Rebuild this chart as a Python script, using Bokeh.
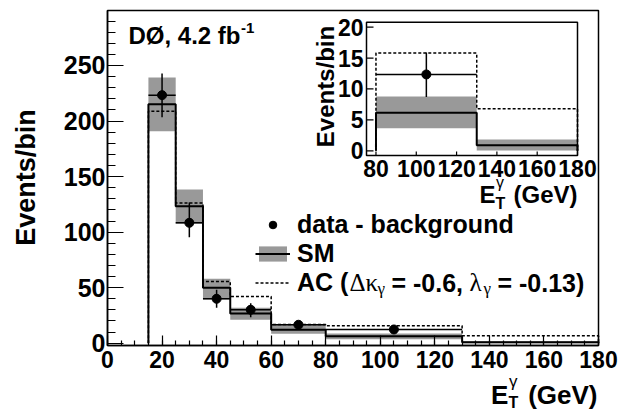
import math
from bokeh.plotting import figure
from bokeh.models import (Range1d, SingleIntervalTicker, Label, Legend, LegendItem)
from bokeh.core.properties import value
from bokeh.embed import file_html
from bokeh.resources import INLINE

# ---------------- data ----------------
bin_edges = [15, 25, 35, 45, 60, 80, 130, 180]
sm_central = [215.2, 123.3, 49.9, 26.7, 12.1, 6.15, 0.9]
sm_low = [190.9, 107.5, 39.3, 21.1, 8.4, 3.66, 0.05]
sm_high = [239.2, 138.4, 58.0, 31.9, 16.8, 8.8, 1.83]
ac_pred = [208.9, 126.2, 55.5, 42.0, 16.8, 15.8, 6.8]
data_x = [20, 30, 40, 52.5, 70, 105]
data_y = [223.3, 108.4, 40.0, 30.1, 16.6, 12.35]
data_err_low = [19.8, 13.0, 8.1, 6.7, 3.5, 3.65]
data_err_high = [19.5, 18.3, 8.1, 5.9, 3.5, 3.55]
inset_x_ticks = [80, 100, 120, 140, 160, 180]
inset_y_ticks = [0, 5, 10, 15, 20]

main_xr = (0, 180)
main_yr = (-2.07, 299.5)
inset_xr = (75.3, 180)
inset_yr = (-0.76, 20.8)

FONT = "Liberation Sans"
GREEK = "Liberation Serif"
GRAY = "#999999"

# ---------------- geometry (pixels) ----------------
W, H = 630, 412
ML, MT, MR, MB = 107, 10, 598, 345          # main frame box
IL, IT, IR, IB = 366, 21.7, 577, 155        # inset frame box


def full_range(lim, a_px, b_px, total, flip=False):
    u = (lim[1] - lim[0]) / (b_px - a_px)
    if flip:  # vertical: a_px = top, b_px = bottom
        return Range1d(lim[0] - (total - b_px) * u, lim[1] + a_px * u)
    return Range1d(lim[0] - a_px * u, lim[1] + (total - b_px) * u)


x_rng = full_range(main_xr, ML, MR, W)
y_rng = full_range(main_yr, MT, MB, H, flip=True)
ix_range = full_range(inset_xr, IL, IR, W)
iy_range = full_range(inset_yr, IT, IB, H, flip=True)
ux = (inset_xr[1] - inset_xr[0]) / (IR - IL)
uy = (inset_yr[1] - inset_yr[0]) / (IB - IT)


def mx(px):
    return x_rng.start + px / W * (x_rng.end - x_rng.start)


def my(py):
    return y_rng.start + (H - py) / H * (y_rng.end - y_rng.start)


def step_xy(edges, vals):
    xs, ys = [edges[0]], [0]
    for i, v in enumerate(vals):
        xs += [edges[i], edges[i + 1]]
        ys += [v, v]
    xs.append(edges[-1])
    ys.append(0)
    return xs, ys


p = figure(width=W, height=H, x_range=x_rng, y_range=y_rng,
           output_backend="svg", toolbar_location=None, min_border=0)
p.extra_x_ranges = {"ix": ix_range}
p.extra_y_ranges = {"iy": iy_range}
p.xgrid.visible = False
p.ygrid.visible = False
p.outline_line_color = None
p.background_fill_color = "white"
p.border_fill_color = "white"

p.xaxis.ticker = SingleIntervalTicker(interval=20, num_minor_ticks=4)
p.yaxis.ticker = SingleIntervalTicker(interval=50, num_minor_ticks=5)
p.xaxis.fixed_location = main_yr[0]
p.xaxis.bounds = main_xr
p.yaxis.fixed_location = main_xr[0]
p.yaxis.bounds = main_yr
for ax, fs, mj, mn, so in ((p.xaxis, "23px", 10, 5, 5), (p.yaxis, "25px", 16, 8, 2)):
    ax.major_label_text_font = FONT
    ax.major_label_text_font_style = "bold"
    ax.major_label_text_font_size = fs
    ax.major_label_text_color = "black"
    ax.major_tick_out = 0
    ax.major_tick_in = mj
    ax.minor_tick_out = 0
    ax.minor_tick_in = mn
    ax.major_tick_line_color = "black"
    ax.minor_tick_line_color = "black"
    ax.major_tick_line_width = 1.2
    ax.minor_tick_line_width = 1.2
    ax.axis_line_color = "black"
    ax.axis_line_width = 1.5
    ax.major_label_standoff = so

# main frame box
p.quad(left=[main_xr[0]], right=[main_xr[1]], bottom=[main_yr[0]], top=[main_yr[1]],
       fill_alpha=0, line_color="black", line_width=1.5)

# ---------------- main histogram ----------------
band = p.quad(left=bin_edges[:-1], right=bin_edges[1:], bottom=sm_low, top=sm_high,
              fill_color=GRAY, line_color=None)
sx, sy = step_xy(bin_edges, sm_central)
smline = p.line(sx, sy, line_color="black", line_width=2)
ax_, ay_ = step_xy(bin_edges, ac_pred)
acline = p.line(ax_, ay_, line_color="black", line_width=1.5, line_dash="3 2")

nd = len(data_x)
p.segment(x0=bin_edges[:nd], x1=bin_edges[1:nd + 1], y0=data_y, y1=data_y,
          line_color="black", line_width=1.5)
p.segment(x0=data_x, x1=data_x, y0=[y - e for y, e in zip(data_y, data_err_low)],
          y1=[y + e for y, e in zip(data_y, data_err_high)], line_color="black", line_width=1.5)
pts = p.scatter(data_x, data_y, size=9, color="black")

# ---------------- inset ----------------
k = bin_edges.index(80)
IN = dict(x_range_name="ix", y_range_name="iy")
p.quad(left=bin_edges[k:-1], right=bin_edges[k + 1:], bottom=sm_low[k:], top=sm_high[k:],
       fill_color=GRAY, line_color=None, **IN)
isx, isy = step_xy(bin_edges[k:], sm_central[k:])
p.line(isx, isy, line_color="black", line_width=2, **IN)
iax, iay = step_xy(bin_edges[k:], ac_pred[k:])
p.line(iax, iay, line_color="black", line_width=1.5, line_dash="3 2", **IN)
dk = [i for i, x in enumerate(data_x) if x >= 80]
p.segment(x0=[bin_edges[i] for i in dk], x1=[bin_edges[i + 1] for i in dk],
          y0=[data_y[i] for i in dk], y1=[data_y[i] for i in dk],
          line_color="black", line_width=1.5, **IN)
p.segment(x0=[data_x[i] for i in dk], x1=[data_x[i] for i in dk],
          y0=[data_y[i] - data_err_low[i] for i in dk], y1=[data_y[i] + data_err_high[i] for i in dk],
          line_color="black", line_width=1.5, **IN)
p.scatter([data_x[i] for i in dk], [data_y[i] for i in dk], size=9, color="black", **IN)
p.quad(left=[inset_xr[0]], right=[inset_xr[1]], bottom=[inset_yr[0]], top=[inset_yr[1]],
       fill_alpha=0, line_color="black", line_width=1.5, **IN)
p.segment(x0=[inset_xr[0]] * len(inset_y_ticks), x1=[inset_xr[0] + 7 * ux] * len(inset_y_ticks),
          y0=inset_y_ticks, y1=inset_y_ticks, line_color="black", line_width=1.2, **IN)
p.segment(x0=inset_x_ticks, x1=inset_x_ticks, y0=[inset_yr[0]] * len(inset_x_ticks),
          y1=[inset_yr[0] + 4 * uy] * len(inset_x_ticks), line_color="black", line_width=1.2, **IN)
p.text(x=[inset_xr[0]] * len(inset_y_ticks), y=inset_y_ticks, text=[str(t) for t in inset_y_ticks],
       x_offset=-3, text_align="right", text_baseline="middle", text_font=value(FONT),
       text_font_style="bold", text_font_size="23px", text_color="black", **IN)
p.text(x=inset_x_ticks, y=[inset_yr[0]] * len(inset_x_ticks), text=[str(t) for t in inset_x_ticks],
       y_offset=13, text_align="center", text_baseline="middle", text_font=value(FONT),
       text_font_style="bold", text_font_size="23px", text_color="black", **IN)

# ---------------- legend ----------------
legend = Legend(items=[LegendItem(label="data - background", renderers=[pts]),
                       LegendItem(label="SM", renderers=[band, smline]),
                       LegendItem(label="AC (", renderers=[acline])],
                location=(255, 115), glyph_width=35, glyph_height=19, label_height=28,
                spacing=0, padding=0, margin=0, border_line_alpha=0, background_fill_alpha=0,
                label_standoff=7, label_text_font=FONT, label_text_font_style="bold",
                label_text_font_size="25px", label_text_color="black")
p.add_layout(legend)


def lab(px, py, text, size, font=FONT, style="bold", align="left", angle=0):
    # (px, py): anchor pixel; text is vertically centred on it
    p.add_layout(Label(x=mx(px), y=my(py), text=text, text_font=font, text_font_style=style,
                       text_font_size=size, text_align=align, text_baseline="middle",
                       angle=angle, text_color="black"))


# AC legend remainder
row_y = 282
lab(349, row_y, "Δκ", "25px", font=GREEK, style="normal")
lab(377, row_y + 6, "γ", "17px", font=GREEK, style="normal")
lab(391, row_y, "= -0.6,", "25px")
lab(469, row_y, "λ", "25px", font=GREEK, style="normal")
lab(483, row_y + 6, "γ", "17px", font=GREEK, style="normal")
lab(497, row_y, "= -0.13)", "25px")

# experiment label
lab(128, 35, "DØ, 4.2 fb", "24px")
lab(240.5, 27, "-1", "15px")

# main axis titles
lab(25, 177, "Events/bin", "27px", align="center", angle=math.pi / 2)
lab(490.5, 394.5, "E", "26px")
lab(508, 401.5, "T", "16px")
lab(508.5, 380.5, "γ", "17px", style="normal")
lab(597, 394.5, "(GeV)", "26px", align="right")

# inset axis titles
lab(325, 86, "Events/bin", "24px", align="center", angle=math.pi / 2)
lab(479, 194, "E", "24px")
lab(495, 202.5, "T", "16px")
lab(495.5, 181.5, "γ", "16px", style="normal")
lab(577, 194, "(GeV)", "24px", align="right")

open("out.html", "w").write(file_html(p, INLINE))
